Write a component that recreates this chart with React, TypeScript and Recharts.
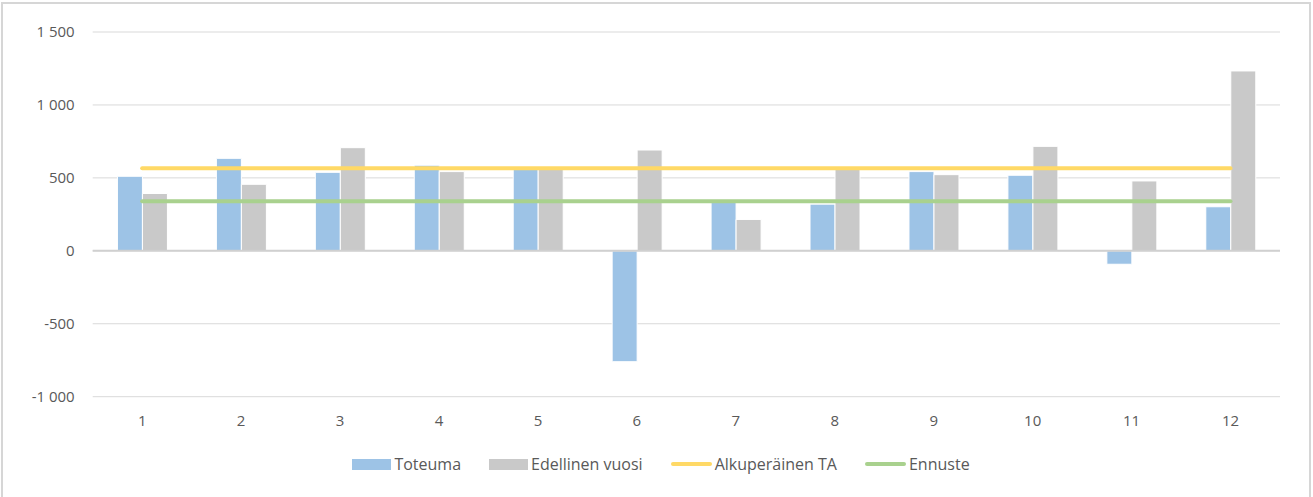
import React from "react";
import {
  Bar,
  CartesianGrid,
  ComposedChart,
  Legend,
  Line,
  ReferenceLine,
  XAxis,
  YAxis,
} from "recharts";

const months = ["1", "2", "3", "4", "5", "6", "7", "8", "9", "10", "11", "12"];
const toteuma = [511, 634, 538, 587, 565, -760, 345, 320, 543, 518, -92, 302];
const edellinenVuosi = [393, 456, 707, 543, 560, 691, 215, 560, 522, 716, 479, 1233];
const alkuperainenTA = [566, 566, 566, 566, 566, 566, 566, 566, 566, 566, 566, 566];
const ennuste = [340, 340, 340, 340, 340, 340, 340, 340, 340, 340, 340, 340];
const yTicks = [-1000, -500, 0, 500, 1000, 1500];

const data = months.map((m, i) => ({
  month: m,
  toteuma: toteuma[i],
  edellinen: edellinenVuosi[i],
  ta: alkuperainenTA[i],
  ennuste: ennuste[i],
}));

const BLUE = "#9DC3E6";
const GRAY = "#C9C9C9";
const YELLOW = "#FFD966";
const GREEN = "#A9D18E";
const TEXT = "#595959";
const FONT = "'Open Sans', 'Noto Sans', sans-serif";

const legendItems = [
  { label: "Toteuma", color: BLUE, kind: "bar" },
  { label: "Edellinen vuosi", color: GRAY, kind: "bar" },
  { label: "Alkuperäinen TA", color: YELLOW, kind: "line" },
  { label: "Ennuste", color: GREEN, kind: "line" },
];

// finnish style: space as thousand separator, plain hyphen for minus
const fmt = (v: number) => {
  const s = Math.abs(v).toString().replace(/\B(?=(\d{3})+(?!\d))/g, " ");
  return (v < 0 ? "-" : "") + s;
};

function LegendContent() {
  return (
    <div
      style={{
        height: 30,
        display: "flex",
        justifyContent: "center",
        alignItems: "center",
        fontFamily: FONT,
        fontSize: 16,
        color: TEXT,
      }}
    >
      {legendItems.map((it, i) => (
        <div
          key={it.label}
          style={{ display: "flex", alignItems: "center", marginLeft: i === 0 ? 0 : 28 }}
        >
          <span
            style={{
              display: "inline-block",
              width: it.kind === "bar" ? 39 : 41,
              height: it.kind === "bar" ? 11 : 4,
              background: it.color,
              borderRadius: it.kind === "bar" ? 0 : 2,
              marginRight: 3,
            }}
          />
          <span>{it.label}</span>
        </div>
      ))}
    </div>
  );
}

export default function App() {
  return (
    <div style={{ position: "absolute", left: 0, top: 0, width: 1313, height: 497, overflow: "hidden", background: "#fff" }}>
      <div
        style={{
          position: "absolute",
          left: 1,
          top: 2,
          width: 1310,
          height: 520,
          border: "2px solid #d6d6d6",
          boxSizing: "border-box",
        }}
      />
      <ComposedChart
        width={1313}
        height={497}
        data={data}
        margin={{ top: 32, right: 33, left: 0, bottom: 18 }}
        barGap={0}
        barCategoryGap="25%"
      >
        <CartesianGrid vertical={false} stroke="#d9d9d9" />
        <XAxis
          dataKey="month"
          height={52.3}
          axisLine={false}
          tickLine={false}
          tickSize={0}
          tickMargin={19}
          tick={{ fill: TEXT, fontSize: 15, fontFamily: FONT }}
        />
        <YAxis
          width={92.7}
          domain={[-1000, 1500]}
          ticks={yTicks}
          axisLine={false}
          tickLine={false}
          tickSize={0}
          tickMargin={18}
          tickFormatter={fmt}
          tick={{ fill: TEXT, fontSize: 15, fontFamily: FONT }}
        />
        <Legend
          verticalAlign="bottom"
          content={() => <LegendContent />}
          wrapperStyle={{ left: 0, width: 1322 }}
        />
        <Bar dataKey="toteuma" name="Toteuma" fill={BLUE} stroke="#fff" strokeWidth={1} isAnimationActive={false} />
        <Bar dataKey="edellinen" name="Edellinen vuosi" fill={GRAY} stroke="#fff" strokeWidth={1} isAnimationActive={false} />
        <ReferenceLine y={0} stroke="#d0d0d0" strokeWidth={2} />
        <Line
          dataKey="ta"
          name="Alkuperäinen TA"
          type="linear"
          stroke={YELLOW}
          strokeWidth={4}
          strokeLinecap="round"
          dot={false}
          activeDot={false}
          isAnimationActive={false}
        />
        <Line
          dataKey="ennuste"
          name="Ennuste"
          type="linear"
          stroke={GREEN}
          strokeWidth={4}
          strokeLinecap="round"
          dot={false}
          activeDot={false}
          isAnimationActive={false}
        />
      </ComposedChart>
    </div>
  );
}
